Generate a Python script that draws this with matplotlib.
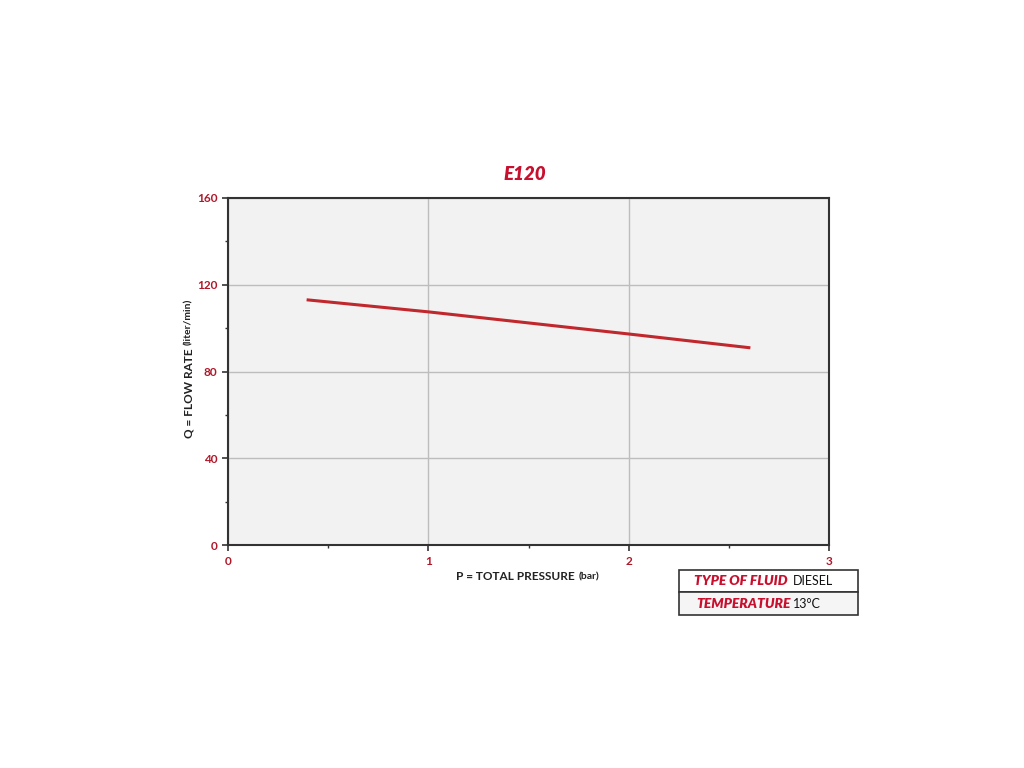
import matplotlib
matplotlib.use("Agg")
import matplotlib.pyplot as plt
from matplotlib.patches import Rectangle

# Data
pressure_bar = [0.4, 1.0, 2.0, 2.6]
flow_lpm = [113, 107.5, 97.3, 91]
x_ticks = [0, 1, 2, 3]
y_ticks = [0, 40, 80, 120, 160]
title = "E120"
fluid_label, fluid_value = "TYPE OF FLUID", "DIESEL"
temp_label, temp_value = "TEMPERATURE", "13\u00b0C"

RED = "#c8102e"
TICKRED = "#b0182a"
LINE = "#c0282d"
plt.rcParams['font.family'] = ['Lato', 'DejaVu Sans']

fig = plt.figure(figsize=(10.24, 7.68), dpi=100)
ax = fig.add_axes([228/1024, 1-545/768, (829-228)/1024, (545-198)/768])
ax.set_facecolor("#f2f2f2")
ax.plot(pressure_bar, flow_lpm, color=LINE, lw=2.2)
ax.set_xlim(0, 3)
ax.set_ylim(0, 160)
ax.set_xticks(x_ticks)
ax.set_yticks(y_ticks)
ax.set_xticks([0.5, 1.5, 2.5], minor=True)
ax.set_yticks([20, 60, 100, 140], minor=True)
ax.grid(True, which='major', color="#bdbdbd", lw=1)
ax.set_axisbelow(True)
for s in ax.spines.values():
    s.set_color("#333333")
    s.set_linewidth(1.5)
ax.tick_params(which='major', length=4, width=1.2, color="#333333",
               labelcolor=TICKRED, labelsize=8.5)
ax.tick_params(axis='x', which='major', pad=4)
ax.tick_params(which='minor', length=2, width=1, color="#333333")
for lab in ax.get_xticklabels() + ax.get_yticklabels():
    lab.set_fontweight('bold')

fig.text(525/1024, 1-174/768, title, color=RED, fontsize=13.5, fontweight='heavy',
         fontstyle='italic', ha='center', va='center')

# x label
fig.text(578/1024, 1-577/768, "P = TOTAL PRESSURE ", fontsize=8.5, fontweight='bold',
         ha='right', va='center', color="#222222")
fig.text(579/1024, 1-577/768, "(bar)", fontsize=7.5, fontweight='bold',
         ha='left', va='center', color="#222222")
# y label
fig.text(189/1024, 1-346/768, "Q = FLOW RATE ", fontsize=8.5, fontweight='bold',
         ha='center', va='top', rotation=90, color="#222222")
fig.text(189/1024, 1-345/768, "(liter/min)", fontsize=7.5, fontweight='bold',
         ha='center', va='bottom', rotation=90, color="#222222")

# info table
x0, x1 = 679/1024, 858/1024
ytop, ymid, ybot = 1-570/768, 1-592/768, 1-615/768
fig.patches.append(Rectangle((x0, ymid), x1-x0, ytop-ymid, transform=fig.transFigure,
                             facecolor="white", edgecolor="#333333", lw=1.2))
fig.patches.append(Rectangle((x0, ybot), x1-x0, ymid-ybot, transform=fig.transFigure,
                             facecolor="#f5f5f5", edgecolor="#333333", lw=1.2))
fig.text(694/1024, (ytop+ymid)/2, fluid_label, color=RED, fontsize=10, fontweight='heavy',
         fontstyle='italic', ha='left', va='center')
fig.text(793/1024, (ytop+ymid)/2, fluid_value, color="#111111", fontsize=9,
         ha='left', va='center')
fig.text(696/1024, (ymid+ybot)/2, temp_label, color=RED, fontsize=10, fontweight='heavy',
         fontstyle='italic', ha='left', va='center')
fig.text(793/1024, (ymid+ybot)/2, temp_value, color="#111111", fontsize=9,
         ha='left', va='center')

fig.savefig("out.png", dpi=100, facecolor="white")
